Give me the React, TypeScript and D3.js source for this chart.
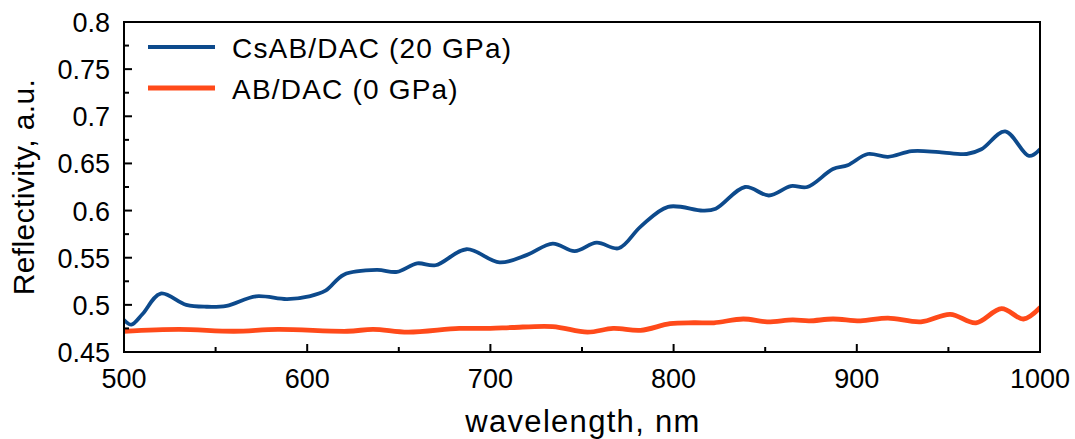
import React from "react";
import * as d3 from "d3";

// Reflectivity spectra (wavelength in nm, reflectivity in a.u.)
const csabWavelength = [500, 504, 510, 520, 534, 545, 556, 572, 589, 601, 610, 620, 638, 649, 660, 670, 687, 705, 720, 734, 746, 758, 770, 782, 797, 816, 823, 839, 852, 864, 873, 887, 895, 906, 917, 930, 945, 960, 968, 981, 994, 1000];
const csabReflectivity = [0.484, 0.479, 0.49, 0.512, 0.5, 0.498, 0.499, 0.509, 0.506, 0.509, 0.515, 0.532, 0.537, 0.535, 0.544, 0.542, 0.559, 0.545, 0.553, 0.565, 0.557, 0.566, 0.56, 0.583, 0.604, 0.6, 0.602, 0.625, 0.616, 0.626, 0.625, 0.644, 0.648, 0.66, 0.657, 0.663, 0.662, 0.66, 0.665, 0.684, 0.658, 0.665];

const abWavelength = [500, 530, 560, 584, 622, 636, 655, 683, 700, 712, 734, 753, 767, 782, 798, 811, 822, 838, 851, 865, 874, 887, 902, 917, 935, 951, 965, 979, 991, 1000];
const abReflectivity = [0.472, 0.474, 0.472, 0.474, 0.472, 0.474, 0.471, 0.475, 0.475, 0.476, 0.477, 0.471, 0.475, 0.473, 0.48, 0.481, 0.481, 0.485, 0.482, 0.484, 0.483, 0.485, 0.483, 0.486, 0.482, 0.49, 0.481, 0.496, 0.485, 0.497];

const xTicks = [500, 600, 700, 800, 900, 1000];
const xMinorTicks = [550, 650, 750, 850, 950];
const yTicks = [0.45, 0.5, 0.55, 0.6, 0.65, 0.7, 0.75, 0.8];
const yMinorTicks = [0.475, 0.525, 0.575, 0.625, 0.675, 0.725, 0.775];

const seriesNames = ["CsAB/DAC (20 GPa)", "AB/DAC (0 GPa)"];
const seriesColors = ["#0d4a8c", "#ff4a1a"];
const seriesWidths = [3.8, 4.8];

const W = 1075;
const H = 439;
const M = { left: 124, right: 1040, top: 22, bottom: 352 };
const FONT = "'Liberation Sans', Arial, sans-serif";

export default function App() {
  const x = d3.scaleLinear().domain([500, 1000]).range([M.left, M.right]);
  const y = d3.scaleLinear().domain([0.45, 0.8]).range([M.bottom, M.top]);

  const line = d3
    .line<[number, number]>()
    .x((d) => x(d[0]))
    .y((d) => y(d[1]))
    .curve(d3.curveCatmullRom.alpha(0.5));

  const csab = csabWavelength.map((w, i) => [w, csabReflectivity[i]] as [number, number]);
  const ab = abWavelength.map((w, i) => [w, abReflectivity[i]] as [number, number]);

  const fmtY = (v: number) => String(+v.toFixed(3));

  return (
    <svg width={W} height={H} style={{ position: "absolute", left: 0, top: 0 }} fontFamily={FONT}>
      <rect width={W} height={H} fill="#fff" />
      <defs>
        <clipPath id="plot">
          <rect x={M.left} y={M.top} width={M.right - M.left} height={M.bottom - M.top} />
        </clipPath>
      </defs>

      <g clipPath="url(#plot)" fill="none" strokeLinejoin="round" strokeLinecap="round">
        <path d={line(ab) ?? ""} stroke={seriesColors[1]} strokeWidth={seriesWidths[1]} />
        <path d={line(csab) ?? ""} stroke={seriesColors[0]} strokeWidth={seriesWidths[0]} />
      </g>

      {/* ticks pointing inward */}
      <g stroke="#000" strokeWidth={2}>
        {xTicks.map((t) => (
          <line key={"xt" + t} x1={x(t)} x2={x(t)} y1={M.bottom} y2={M.bottom - 8} />
        ))}
        {xMinorTicks.map((t) => (
          <line key={"xm" + t} x1={x(t)} x2={x(t)} y1={M.bottom} y2={M.bottom - 5} />
        ))}
        {yTicks.map((t) => (
          <line key={"yt" + t} x1={M.left} x2={M.left + 8} y1={y(t)} y2={y(t)} />
        ))}
        {yMinorTicks.map((t) => (
          <line key={"ym" + t} x1={M.left} x2={M.left + 5} y1={y(t)} y2={y(t)} />
        ))}
      </g>

      <rect
        x={M.left}
        y={M.top}
        width={M.right - M.left}
        height={M.bottom - M.top}
        fill="none"
        stroke="#000"
        strokeWidth={2}
      />

      <g fontSize={27} fill="#000">
        {xTicks.map((t) => (
          <text key={"xl" + t} x={x(t)} y={388} textAnchor="middle">
            {t}
          </text>
        ))}
        {yTicks.map((t) => (
          <text key={"yl" + t} x={M.left - 14} y={y(t) + 10} textAnchor="end">
            {fmtY(t)}
          </text>
        ))}
      </g>

      <text x={583} y={432} textAnchor="middle" fontSize={31} letterSpacing={1.3}>
        wavelength, nm
      </text>
      <text
        transform={`translate(34, ${(M.top + M.bottom) / 2}) rotate(-90)`}
        textAnchor="middle"
        fontSize={30}
        letterSpacing={0.4}
      >
        Reflectivity, a.u.
      </text>

      {/* legend */}
      <g fontSize={28} letterSpacing={1.2}>
        {seriesNames.map((name, i) => (
          <g key={name} transform={`translate(0, ${47 + i * 41})`}>
            <line x1={148} x2={215} y1={0} y2={0} stroke={seriesColors[i]} strokeWidth={seriesWidths[i]} />
            <text x={232} y={11} fill="#000">
              {name}
            </text>
          </g>
        ))}
      </g>
    </svg>
  );
}
